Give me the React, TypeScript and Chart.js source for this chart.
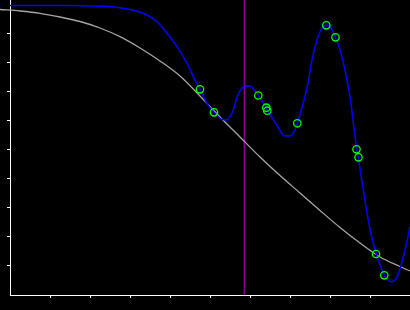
import React, { useEffect, useRef } from "react";
import { Chart, registerables } from "chart.js";

Chart.register(...registerables);

// Axis ranges and tick values
const xRange = [0, 10];
const yRange = [0, 10.1724];
const xTickValues = [1, 2, 3, 4, 5, 6, 7, 8, 9];
const yTickValues = [1, 2, 3, 4, 5, 6, 7, 8, 9];

// Gray prior/reference curve
const grayX = [-0.25, 0.25, 0.75, 1.25, 1.75, 2.25, 2.75, 3.25, 3.75, 4.25, 4.75, 5.25, 5.75, 6.25, 6.75, 7.25, 7.75, 8.25, 8.75, 9.25, 9.75, 10.0];
const grayY = [9.845, 9.793, 9.714, 9.586, 9.431, 9.207, 8.907, 8.517, 8.069, 7.552, 6.862, 6.138, 5.448, 4.759, 4.121, 3.517, 2.914, 2.328, 1.793, 1.31, 0.983, 0.828];

// Blue fitted curve
const blueX = [0, 0.5, 1.0, 1.5, 2.0, 2.5, 3.0, 3.425, 3.675, 3.925, 4.175, 4.425, 4.625, 4.75, 4.925, 5.1, 5.25, 5.4, 5.55, 5.7, 5.875, 6.0, 6.125, 6.2075, 6.3, 6.4125, 6.5, 6.6675, 6.875, 7.0, 7.125, 7.1825, 7.325, 7.45, 7.55, 7.675, 7.8, 7.9125, 8.025, 8.1375, 8.25, 8.375, 8.5, 8.5825, 8.6625, 8.7125, 8.825, 8.9575, 9.05, 9.15, 9.25, 9.3575, 9.45, 9.5425, 9.625, 9.7, 9.8, 9.9, 10.0];
const blueY = [9.983, 9.983, 9.983, 9.979, 9.966, 9.941, 9.845, 9.655, 9.424, 9.024, 8.562, 7.99, 7.414, 7.093, 6.61, 6.3, 6.093, 6.034, 6.266, 6.897, 7.207, 7.207, 7.045, 6.886, 6.69, 6.431, 6.241, 5.862, 5.483, 5.483, 5.69, 5.921, 6.586, 7.3, 8.103, 8.793, 9.197, 9.31, 9.207, 8.886, 8.448, 7.759, 6.828, 5.966, 5.103, 4.69, 3.69, 2.586, 1.966, 1.448, 1.034, 0.679, 0.517, 0.459, 0.517, 0.69, 1.138, 1.69, 2.345];

// Observed sample points (green circles)
const obsX = [4.75, 5.1, 6.2075, 6.4075, 6.4325, 7.1825, 7.9075, 8.1375, 8.6625, 8.7125, 9.15, 9.3575];
const obsY = [7.093, 6.3, 6.879, 6.459, 6.355, 5.921, 9.3, 8.886, 5.024, 4.748, 1.414, 0.679];

// Vertical marker position
const markerX = 5.858;

const toPoints = (xs: number[], ys: number[]) => xs.map((x, i) => ({ x, y: ys[i] }));

export default function App() {
  const ref = useRef<HTMLCanvasElement | null>(null);

  useEffect(() => {
    document.body.style.margin = "0";
    document.body.style.background = "#000";
    document.body.style.overflow = "hidden";
    if (!ref.current) return;

    const bg = {
      id: "bg",
      beforeDraw(chart: any) {
        const c = chart.ctx;
        c.save();
        c.fillStyle = "#000";
        c.fillRect(0, 0, chart.width, chart.height);
        c.restore();
      },
    };

    const axisCommon = (ticks: number[], min: number, max: number) => ({
      type: "linear" as const,
      min,
      max,
      afterBuildTicks: (scale: any) => {
        scale.ticks = ticks.map((v) => ({ value: v }));
      },
      ticks: { display: false },
      grid: {
        display: true,
        drawOnChartArea: false,
        drawTicks: true,
        tickLength: 3,
        tickColor: "#ffffff",
        lineWidth: 1,
      },
      border: { display: true, color: "#ffffff", width: 1 },
    });

    const chart = new Chart(ref.current, {
      type: "scatter",
      data: {
        datasets: [
          {
            label: "obs",
            data: toPoints(obsX, obsY),
            showLine: false,
            pointStyle: "circle",
            pointRadius: 3.7,
            pointBorderWidth: 1.3,
            pointBorderColor: "#00ff00",
            pointBackgroundColor: "rgba(0,0,0,0)",
          },
          {
            label: "fit",
            data: toPoints(blueX, blueY),
            showLine: true,
            borderColor: "#0000ff",
            borderWidth: 1.5,
            pointRadius: 0,
            cubicInterpolationMode: "monotone",
          },
          {
            label: "prior",
            data: toPoints(grayX, grayY),
            showLine: true,
            borderColor: "#a4a4a4",
            borderWidth: 1.3,
            pointRadius: 0,
            cubicInterpolationMode: "monotone",
            clip: false,
          },
          {
            label: "marker",
            data: [
              { x: markerX, y: yRange[0] },
              { x: markerX, y: yRange[1] },
            ],
            showLine: true,
            borderColor: "#8a008a",
            borderWidth: 1.4,
            pointRadius: 0,
          },
        ],
      } as any,
      options: {
        responsive: false,
        animation: false,
        events: [],
        layout: { autoPadding: false, padding: { left: 7, right: 0, top: 0, bottom: 12 } },
        plugins: { legend: { display: false }, tooltip: { enabled: false } },
        scales: {
          x: { ...axisCommon(xTickValues, xRange[0], xRange[1]), position: "bottom" },
          y: { ...axisCommon(yTickValues, yRange[0], yRange[1]), position: "left" },
        } as any,
      },
      plugins: [bg],
    });

    return () => chart.destroy();
  }, []);

  return (
    <div style={{ position: "fixed", left: 0, top: 0, width: 410, height: 310, background: "#000" }}>
      <canvas ref={ref} width={410} height={310} style={{ width: 410, height: 310, display: "block" }} />
    </div>
  );
}
